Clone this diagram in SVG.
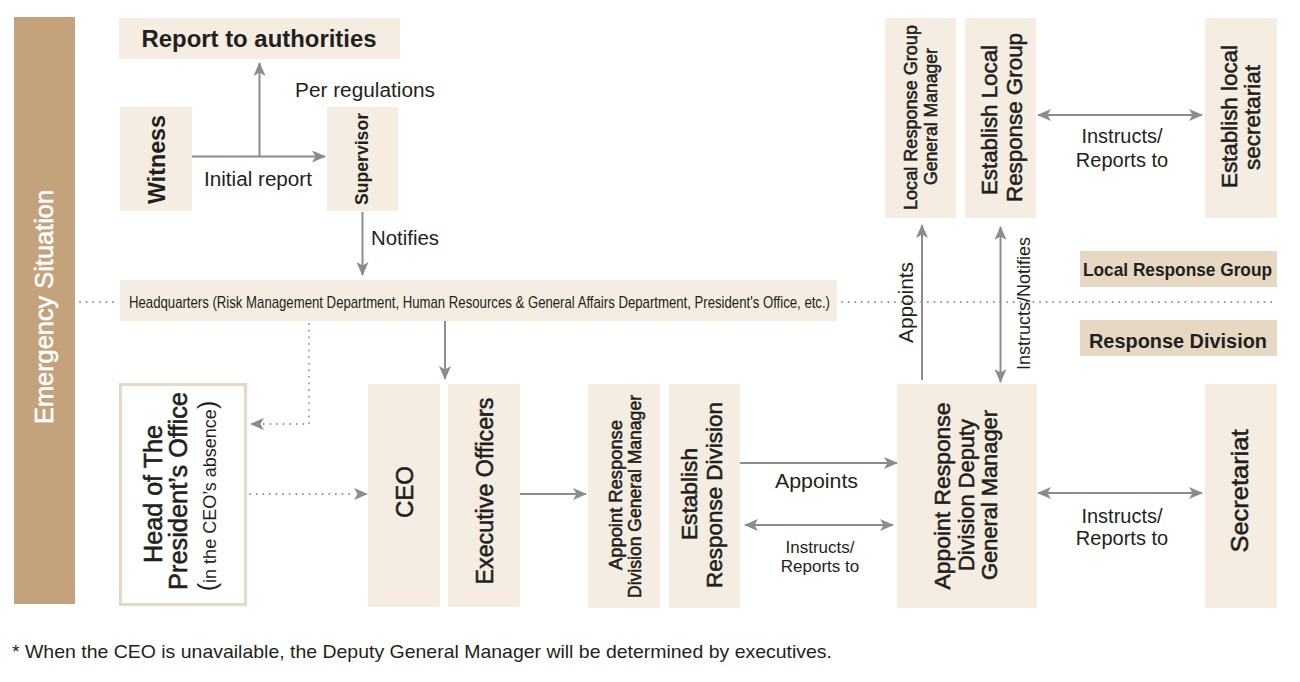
<svg xmlns="http://www.w3.org/2000/svg" width="1300" height="682" viewBox="0 0 1300 682">
<style>
text{font-family:"Liberation Sans",Arial,sans-serif;fill:#231f20}
.n{fill:#f5ede1}
.lb{fill:#e6d8c2}
.b{font-weight:bold}
.md{stroke:#231f20;stroke-width:0.55}
.c{stroke:#8c8c8c;stroke-width:2;fill:none}
.d{stroke:#8c8c8c;stroke-width:1.8;fill:none;stroke-dasharray:0.1 6.5;stroke-linecap:round}
.m{text-anchor:middle}
</style>
<defs>
<marker id="ah" viewBox="0 0 14 12" refX="13" refY="6" markerWidth="14" markerHeight="12" markerUnits="userSpaceOnUse" orient="auto-start-reverse">
<path d="M0,0 L14,6 L0,12 L3.5,6 Z" fill="#8c8c8c"/>
</marker>
</defs>
<rect width="1300" height="682" fill="#ffffff"/>

<g id="emergency">
<rect x="14" y="17" width="61" height="587" fill="#c4a27c"/>
<text transform="rotate(-90)" x="-307" y="53" class="m" font-size="25" style="fill:#ffffff;stroke:#ffffff;stroke-width:0.5" textLength="234" lengthAdjust="spacingAndGlyphs">Emergency Situation</text>
</g>

<g id="report">
<rect class="n" x="119" y="18" width="281" height="41"/>
<text x="259" y="47" class="m b" font-size="23" textLength="235" lengthAdjust="spacingAndGlyphs">Report to authorities</text>
</g>

<g id="witness">
<rect class="n" x="120" y="107" width="72" height="104"/>
<text transform="rotate(-90)" x="-159.5" y="165" class="m b" font-size="24" textLength="89" lengthAdjust="spacingAndGlyphs">Witness</text>
</g>

<g id="supervisor">
<rect class="n" x="327" y="107" width="71" height="104"/>
<text transform="rotate(-90)" x="-159" y="368" class="m b" font-size="18" textLength="92" lengthAdjust="spacingAndGlyphs">Supervisor</text>
</g>

<g id="headquarters">
<rect class="n" x="120" y="280" width="717" height="41"/>
<text x="129" y="308" font-size="17" textLength="701" lengthAdjust="spacingAndGlyphs">Headquarters (Risk Management Department, Human Resources &amp; General Affairs Department, President's Office, etc.)</text>
</g>

<g id="head-office">
<rect x="120.5" y="384.5" width="125" height="220" fill="#ffffff" stroke="#e5d9c5" stroke-width="3"/>
<text transform="rotate(-90)" x="-494" y="162" class="m md" font-size="25" textLength="138" lengthAdjust="spacingAndGlyphs">Head of The</text>
<text transform="rotate(-90)" x="-491" y="187" class="m md" font-size="25" textLength="198" lengthAdjust="spacingAndGlyphs">President’s Office</text>
<text transform="rotate(-90)" x="-496" y="216" class="m" font-size="18"><tspan font-size="25">(</tspan>in the CEO’s absence<tspan font-size="25">)</tspan></text>
</g>

<g id="ceo">
<rect class="n" x="368" y="384" width="72" height="223"/>
<text transform="rotate(-90)" x="-492" y="413" class="m md" font-size="24">CEO</text>
</g>

<g id="executive-officers">
<rect class="n" x="448" y="384" width="72" height="223"/>
<text transform="rotate(-90)" x="-491" y="493" class="m md" font-size="23" textLength="187" lengthAdjust="spacingAndGlyphs">Executive Officers</text>
</g>

<g id="appoint-gm">
<rect class="n" x="588" y="384" width="72" height="224"/>
<text transform="rotate(-90)" x="-495" y="622" class="m md" font-size="17.5" textLength="150" lengthAdjust="spacingAndGlyphs">Appoint Response</text>
<text transform="rotate(-90)" x="-496.5" y="641" class="m md" font-size="17.5" textLength="203" lengthAdjust="spacingAndGlyphs">Division General Manager</text>
</g>

<g id="establish-division">
<rect class="n" x="669" y="384" width="71" height="224"/>
<text transform="rotate(-90)" x="-494" y="697" class="m md" font-size="22" textLength="92" lengthAdjust="spacingAndGlyphs">Establish</text>
<text transform="rotate(-90)" x="-495" y="722" class="m md" font-size="22" textLength="186" lengthAdjust="spacingAndGlyphs">Response Division</text>
</g>

<g id="deputy-gm">
<rect class="n" x="897" y="384" width="140" height="224"/>
<text transform="rotate(-90)" x="-496" y="950" class="m md" font-size="22" textLength="187" lengthAdjust="spacingAndGlyphs">Appoint Response</text>
<text transform="rotate(-90)" x="-495" y="973.5" class="m md" font-size="22" textLength="152" lengthAdjust="spacingAndGlyphs">Division Deputy</text>
<text transform="rotate(-90)" x="-495" y="997" class="m md" font-size="22" textLength="170" lengthAdjust="spacingAndGlyphs">General Manager</text>
</g>

<g id="secretariat">
<rect class="n" x="1205" y="384" width="72" height="224"/>
<text transform="rotate(-90)" x="-491" y="1248" class="m md" font-size="24" textLength="123" lengthAdjust="spacingAndGlyphs">Secretariat</text>
</g>

<g id="local-gm">
<rect class="n" x="885" y="18" width="71" height="200"/>
<text transform="rotate(-90)" x="-117.5" y="917" class="m md" font-size="18" textLength="185" lengthAdjust="spacingAndGlyphs">Local Response Group</text>
<text transform="rotate(-90)" x="-116.5" y="937" class="m md" font-size="18" textLength="137" lengthAdjust="spacingAndGlyphs">General Manager</text>
</g>

<g id="establish-local">
<rect class="n" x="965" y="18" width="71" height="200"/>
<text transform="rotate(-90)" x="-120" y="997" class="m md" font-size="22" textLength="150" lengthAdjust="spacingAndGlyphs">Establish Local</text>
<text transform="rotate(-90)" x="-117.5" y="1022" class="m md" font-size="22" textLength="169" lengthAdjust="spacingAndGlyphs">Response Group</text>
</g>

<g id="local-secretariat">
<rect class="n" x="1205" y="18" width="72" height="200"/>
<text transform="rotate(-90)" x="-116.5" y="1237" class="m md" font-size="22" textLength="143" lengthAdjust="spacingAndGlyphs">Establish local</text>
<text transform="rotate(-90)" x="-117.5" y="1260" class="m md" font-size="22" textLength="105" lengthAdjust="spacingAndGlyphs">secretariat</text>
</g>

<g id="label-local-group">
<rect class="lb" x="1080" y="251" width="197" height="36"/>
<text x="1177.5" y="276" class="m b" font-size="19" textLength="189" lengthAdjust="spacingAndGlyphs">Local Response Group</text>
</g>

<g id="label-response-division">
<rect class="lb" x="1080" y="320" width="197" height="36"/>
<text x="1178" y="348" class="m b" font-size="20" textLength="178" lengthAdjust="spacingAndGlyphs">Response Division</text>
</g>

<g id="connectors">
<line class="d" x1="80" y1="302" x2="118" y2="302"/>
<line class="d" x1="842" y1="302" x2="1276" y2="302"/>
<path class="c" d="M192,156.5 H325" marker-end="url(#ah)"/>
<path class="c" d="M259.5,156.5 V63" marker-end="url(#ah)"/>
<path class="c" d="M362.5,212 V275" marker-end="url(#ah)"/>
<path class="c" d="M445,321 V379" marker-end="url(#ah)"/>
<path class="d" d="M309,324 V424 H262"/>
<path class="c" d="M263,424 H251" marker-end="url(#ah)" style="stroke:none"/>
<path class="d" d="M250,494 H355"/>
<path class="c" d="M356,494 H367" marker-end="url(#ah)" style="stroke:none"/>
<path class="c" d="M520,494 H586" marker-end="url(#ah)"/>
<path class="c" d="M740,463 H897" marker-end="url(#ah)"/>
<path class="c" d="M745,525 H893" marker-start="url(#ah)" marker-end="url(#ah)"/>
<path class="c" d="M1038,493 H1202" marker-start="url(#ah)" marker-end="url(#ah)"/>
<path class="c" d="M1038,115 H1202" marker-start="url(#ah)" marker-end="url(#ah)"/>
<path class="c" d="M922,380 V225" marker-end="url(#ah)"/>
<path class="c" d="M1000.5,227 V382" marker-start="url(#ah)" marker-end="url(#ah)"/>
</g>

<g id="labels">
<text x="295" y="97" font-size="20" textLength="140" lengthAdjust="spacingAndGlyphs">Per regulations</text>
<text x="204" y="186" font-size="20" textLength="108" lengthAdjust="spacingAndGlyphs">Initial report</text>
<text x="371" y="245" font-size="20" textLength="68" lengthAdjust="spacingAndGlyphs">Notifies</text>
<text x="816.5" y="488" class="m" font-size="20" textLength="83" lengthAdjust="spacingAndGlyphs">Appoints</text>
<text x="820" y="553" class="m" font-size="17">Instructs/</text>
<text x="820" y="572" class="m" font-size="17">Reports to</text>
<text x="1122" y="523" class="m" font-size="20">Instructs/</text>
<text x="1122" y="545" class="m" font-size="20">Reports to</text>
<text x="1122" y="143" class="m" font-size="20">Instructs/</text>
<text x="1122" y="167" class="m" font-size="20">Reports to</text>
<text transform="rotate(-90)" x="-302.5" y="913" class="m" font-size="20" textLength="81" lengthAdjust="spacingAndGlyphs">Appoints</text>
<text transform="rotate(-90)" x="-303.5" y="1030" class="m" font-size="18" textLength="133" lengthAdjust="spacingAndGlyphs">Instructs/Notifies</text>
<text x="12" y="658" font-size="18.5" textLength="820" lengthAdjust="spacingAndGlyphs">* When the CEO is unavailable, the Deputy General Manager will be determined by executives.</text>
</g>
</svg>
